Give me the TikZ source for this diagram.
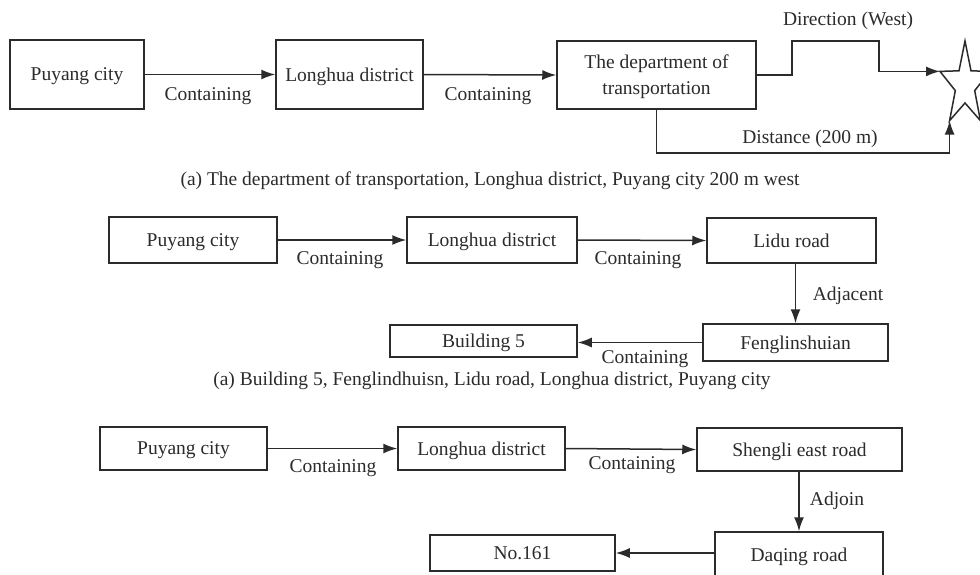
\documentclass[tikz,border=0pt]{standalone}
\usepackage{fontspec}
\setmainfont{Liberation Serif}
\usetikzlibrary{arrows.meta}
\definecolor{ink}{HTML}{2B2B2B}
\tikzset{
  box/.style={draw=ink, line width=1.5pt, text=ink, inner sep=0pt, anchor=center,
    font=\fontsize{19.5}{26}\selectfont, align=center, text depth=0pt},
  lbl/.style={text=ink, inner sep=0pt, anchor=center, font=\fontsize{19.5}{23}\selectfont},
  arr/.style={draw=ink, line width=1.5pt, -{Latex[length=14pt,width=10pt]}},
}
\begin{document}
\begin{tikzpicture}[x=1pt,y=-1pt]
\useasboundingbox (0,0) rectangle (980,574);
\fill[white] (0,0) rectangle (980,574);

% ---------- Row 1 ----------
\node[box, minimum width=134pt, minimum height=69pt] (p1) at (77,74.5) {Puyang city};
\node[box, minimum width=147pt, minimum height=69pt] (l1) at (349.5,74.5) {Longhua district};
\node[box, minimum width=199pt, minimum height=68pt] (d1) at (656.5,75) {The department of\\transportation};

% star
\coordinate (sT) at (965,41);
\coordinate (sL) at (940,71.4);
\coordinate (sBL) at (949.6,120.6);
\draw[draw=ink, line width=1.5pt, fill=white]
  (sT) -- (959,70.8) -- (sL) -- (955.3,90.6) -- (sBL) -- (965,103)
  -- (980.4,120.6) -- (974.7,90.6) -- (990,71.4) -- (971,70.8) -- cycle;

\draw[arr] (p1.east) -- (l1.west);
\draw[arr] (l1.east) -- (d1.west);
\node[lbl] (c11) at (208,96) {Containing};
\node[lbl] (c12) at (488,96) {Containing};

\coordinate (u1) at (792,41);
\coordinate (u2) at (879,41);
\draw[arr] (d1.east) -| (u1) -- (u2) |- (sL);
\node[lbl] (dir) at (848,21) {Direction (West)};

\coordinate (dc) at (949.6,153);
\draw[arr] (d1.south) |- (dc) -- (sBL);
\node[lbl] (dist) at (810,139) {Distance (200 m)};

\node[lbl] (cap1) at (490,181) {(a) The department of transportation, Longhua district, Puyang city 200 m west};

% ---------- Row 2 ----------
\node[box, minimum width=168pt, minimum height=46pt] (p2) at (193,240) {Puyang city};
\node[box, minimum width=170pt, minimum height=46pt] (l2) at (492,240) {Longhua district};
\node[box, minimum width=169pt, minimum height=45pt] (r2) at (791.5,240.5) {Lidu road};
\node[box, minimum width=185pt, minimum height=37pt] (f2) at (795.5,342.5) {Fenglinshuian};
\node[box, minimum width=187pt, minimum height=32pt] (b2) at (483.5,341) {Building 5};

\draw[arr] (p2.east) -- (l2.west);
\draw[arr] (l2.east) -- (r2.west);
\draw[arr] (f2.north |- r2.south) -- (f2.north);
\draw[arr] (f2.west) -- (b2.east |- f2.west);
\node[lbl] (c21) at (340,260) {Containing};
\node[lbl] (c22) at (638,260) {Containing};
\node[lbl] (adj) at (848,296) {Adjacent};
\node[lbl] (c23) at (645,359) {Containing};

\node[lbl] (cap2) at (492,381) {(a) Building 5, Fenglindhuisn, Lidu road, Longhua district, Puyang city};

% ---------- Row 3 ----------
\node[box, minimum width=167pt, minimum height=43pt] (p3) at (183.5,448.5) {Puyang city};
\node[box, minimum width=167pt, minimum height=43pt] (l3) at (481.5,448.5) {Longhua district};
\node[box, minimum width=205pt, minimum height=43pt] (s3) at (799.5,449.5) {Shengli east road};
\node[box, minimum width=168pt, minimum height=46pt] (q3) at (799,555) {Daqing road};
\node[box, minimum width=185pt, minimum height=36pt] (n3) at (522.5,553) {No.161};

\draw[arr] (p3.east) -- (l3.west);
\draw[arr] (l3.east) -- (s3.west);
\draw[arr] (q3.north |- s3.south) -- (q3.north);
\draw[arr] (q3.west |- n3.east) -- (n3.east);
\node[lbl] (c31) at (333,468) {Containing};
\node[lbl] (c32) at (632,465) {Containing};
\node[lbl] (adjo) at (837,501) {Adjoin};
\end{tikzpicture}
\end{document}
